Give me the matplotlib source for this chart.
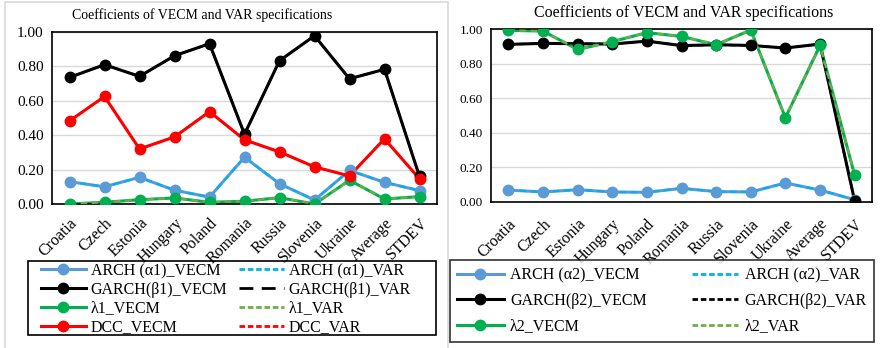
import matplotlib
matplotlib.use("Agg")
import matplotlib.pyplot as plt
from matplotlib.lines import Line2D
from matplotlib.patches import Rectangle

plt.rcParams['font.family'] = ['Liberation Serif', 'DejaVu Serif']

countries = ['Croatia', 'Czech', 'Estonia', 'Hungary', 'Poland', 'Romania',
             'Russia', 'Slovenia', 'Ukraine', 'Average', 'STDEV']

# panel 1 (VECM / VAR nearly identical)
arch1_vecm = [0.13, 0.10, 0.155, 0.08, 0.04, 0.272, 0.118, 0.023, 0.195, 0.126, 0.078]
arch1_var = [0.13, 0.10, 0.155, 0.08, 0.04, 0.272, 0.118, 0.023, 0.195, 0.126, 0.078]
garch1_vecm = [0.736, 0.81, 0.742, 0.862, 0.932, 0.406, 0.833, 0.978, 0.728, 0.783, 0.16]
garch1_var = [0.736, 0.81, 0.742, 0.862, 0.932, 0.406, 0.833, 0.978, 0.728, 0.783, 0.16]
lam1_vecm = [0.0, 0.01, 0.025, 0.035, 0.01, 0.016, 0.037, 0.0, 0.138, 0.029, 0.043]
lam1_var = [0.0, 0.01, 0.025, 0.035, 0.01, 0.016, 0.037, 0.0, 0.138, 0.029, 0.043]
dcc_vecm = [0.483, 0.625, 0.32, 0.39, 0.537, 0.373, 0.303, 0.216, 0.163, 0.379, 0.146]
dcc_var = [0.483, 0.625, 0.32, 0.39, 0.537, 0.373, 0.303, 0.216, 0.163, 0.379, 0.146]

# panel 2
arch2_vecm = [0.069, 0.058, 0.071, 0.058, 0.056, 0.079, 0.060, 0.058, 0.110, 0.069, 0.013]
arch2_var = [0.069, 0.058, 0.071, 0.058, 0.056, 0.079, 0.060, 0.058, 0.110, 0.069, 0.013]
garch2_vecm = [0.911, 0.917, 0.915, 0.913, 0.930, 0.904, 0.909, 0.905, 0.890, 0.913, 0.006]
garch2_var = [0.911, 0.917, 0.915, 0.913, 0.930, 0.904, 0.909, 0.905, 0.890, 0.913, 0.006]
lam2_vecm = [0.992, 0.988, 0.882, 0.927, 0.979, 0.957, 0.909, 0.994, 0.487, 0.905, 0.154]
lam2_var = [0.992, 0.988, 0.882, 0.927, 0.979, 0.957, 0.909, 0.994, 0.487, 0.905, 0.154]

title = 'Coefficients of VECM and VAR specifications'

W, H = 880, 348
fig = plt.figure(figsize=(W / 100, H / 100), dpi=100)


def frac(x0, y0, x1, y1):
    return [x0 / W, 1 - y1 / H, (x1 - x0) / W, (y1 - y0) / H]


def box(x0, y0, x1, y1, color, lw):
    fig.patches.append(Rectangle((x0 / W, 1 - y1 / H), (x1 - x0) / W, (y1 - y0) / H,
                                 transform=fig.transFigure, fill=False,
                                 edgecolor=color, lw=lw, zorder=5))


# light grey border around left picture
box(5, 2, 448, 350, '#D9D9D9', 1.2)


def panel(rect, series, tick_fs, ylab_fs, xpad):
    ax = fig.add_axes(rect)
    x = range(len(countries))
    # VECM lines, then VAR dashed on top, then VECM markers
    for vecm, var, c1, c2, dash in series:
        ax.plot(x, vecm, color=c1, lw=2.2, zorder=2)
    for vecm, var, c1, c2, dash in series:
        ax.plot(x, var, color=c2, lw=1.6, ls=(0, dash), zorder=3)
    for vecm, var, c1, c2, dash in series:
        ax.plot(x, vecm, ls='none', marker='o', ms=7.5, color=c1, zorder=4)
    ax.set_xlim(-0.5, len(countries) - 0.5)
    ax.set_ylim(0, 1.0)
    ax.set_yticks([0, 0.2, 0.4, 0.6, 0.8, 1.0])
    ax.set_yticklabels(['%.2f' % v for v in [0, 0.2, 0.4, 0.6, 0.8, 1.0]], fontsize=ylab_fs)
    ax.set_xticks(list(x))
    ax.set_xticklabels(countries, rotation=45, ha='right', rotation_mode='anchor', fontsize=tick_fs)
    ax.tick_params(axis='y', length=0, pad=6)
    ax.tick_params(axis='x', length=0, pad=xpad)
    ax.grid(axis='y', color='#D9D9D9', lw=1)
    ax.set_axisbelow(True)
    for s in ax.spines.values():
        s.set_color('black')
        s.set_linewidth(1.2)
    return ax


c_arch, c_arch_v = '#5B9BD5', '#00B0F0'
c_lam, c_lam_v = '#00B050', '#70AD47'

ax1 = panel(frac(52, 32, 437, 204), [
    (arch1_vecm, arch1_var, c_arch, c_arch_v, (3, 2)),
    (garch1_vecm, garch1_var, 'black', 'black', (6, 3)),
    (lam1_vecm, lam1_var, c_lam, c_lam_v, (3, 2)),
    (dcc_vecm, dcc_var, 'red', 'red', (3, 2)),
], 11.5, 11, 8)

ax2 = panel(frac(491, 29, 872, 202), [
    (arch2_vecm, arch2_var, c_arch, c_arch_v, (3, 2)),
    (garch2_vecm, garch2_var, 'black', 'black', (3, 2)),
    (lam2_vecm, lam2_var, c_lam, c_lam_v, (3, 2)),
], 11.5, 9.5, 10)

fig.text(202 / W, 1 - 15 / H, title, ha='center', va='center', fontsize=10)
fig.text(684 / W, 1 - 13 / H, title, ha='center', va='center', fontsize=11.5)


def vecm_h(c):
    return Line2D([], [], color=c, lw=2.2, marker='o', ms=7.5)


def var_h(c, dash):
    return Line2D([], [], color=c, lw=2, ls=(0, dash))


h1 = [vecm_h(c_arch), vecm_h('black'), vecm_h(c_lam), vecm_h('red'),
      var_h(c_arch_v, (2, 1)), var_h('black', (5, 3)), var_h(c_lam_v, (2, 1)), var_h('red', (2, 1))]
l1 = ['ARCH (α1)_VECM', 'GARCH(β1)_VECM', 'λ1_VECM', 'DCC_VECM',
      'ARCH (α1)_VAR', 'GARCH(β1)_VAR', 'λ1_VAR', 'DCC_VAR']
fig.legend(h1, l1, ncol=2, loc='upper left', mode='expand',
           bbox_to_anchor=(41 / W, 1 - 263 / H, 370 / W, 0.0),
           fontsize=11.5, frameon=False,
           handlelength=2.8, labelspacing=0.17, borderpad=0, handletextpad=0.3,
           columnspacing=1.0, borderaxespad=0)
box(28, 261, 436, 335, 'black', 1.2)

h2 = [vecm_h(c_arch), vecm_h('black'), vecm_h(c_lam),
      var_h(c_arch_v, (2, 1)), var_h('black', (2, 1)), var_h(c_lam_v, (2, 1))]
l2 = ['ARCH (α2)_VECM', 'GARCH(β2)_VECM', 'λ2_VECM',
      'ARCH (α2)_VAR', 'GARCH(β2)_VAR', 'λ2_VAR']
leg2 = fig.legend(h2, l2, ncol=2, loc='upper left', mode='expand',
                  bbox_to_anchor=(450 / W, 1 - 260 / H, 424 / W, 0.0),
                  fontsize=11.5, frameon=True, fancybox=False, edgecolor='black',
                  handlelength=2.9, labelspacing=0.6, borderpad=0.45, handletextpad=0.4,
                  columnspacing=1.0, borderaxespad=0)
leg2.get_frame().set_linewidth(1.2)

fig.savefig('out.png', dpi=100)
